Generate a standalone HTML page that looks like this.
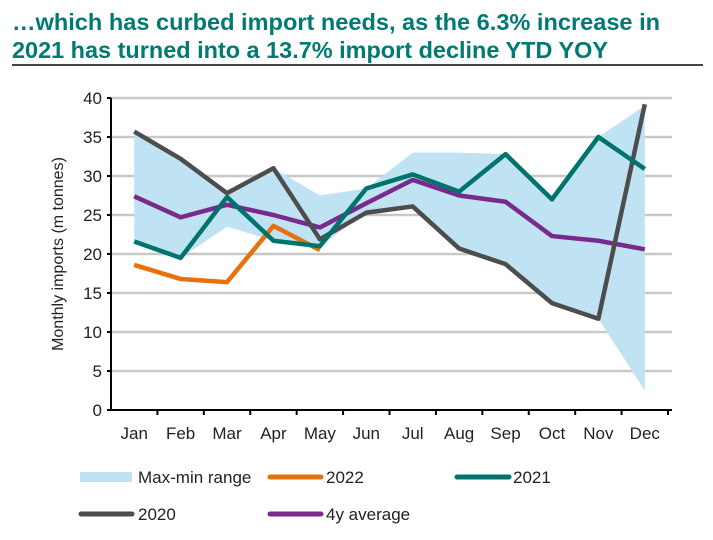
<!DOCTYPE html>
<html><head><meta charset="utf-8"><style>
body{margin:0;background:#fff;width:713px;height:535px;overflow:hidden;font-family:"Liberation Sans",sans-serif}
</style></head><body>
<svg id="chart" width="713" height="535" viewBox="0 0 713 535" xmlns="http://www.w3.org/2000/svg" font-family="Liberation Sans, sans-serif">
<text x="12" y="30" font-size="23" font-weight="bold" fill="#007a72" textLength="648" lengthAdjust="spacingAndGlyphs">…which has curbed import needs, as the 6.3% increase in</text>
<text x="12" y="58" font-size="23" font-weight="bold" fill="#007a72" textLength="596" lengthAdjust="spacingAndGlyphs">2021 has turned into a 13.7% import decline YTD YOY</text>
<line x1="12" y1="65" x2="703" y2="65" stroke="#444" stroke-width="2"/>
<g id="plot"></g>
<text transform="translate(63,254) rotate(-90)" text-anchor="middle" font-size="16" fill="#222">Monthly imports (m tonnes)</text>
<g font-size="17" fill="#222">
<rect x="80" y="472" width="52" height="10" fill="#bfe3f3"/>
<text x="138" y="483">Max-min range</text>
<line x1="270" y1="477" x2="321" y2="477" stroke="#e8700d" stroke-width="5" stroke-linecap="round"/>
<text x="326" y="483">2022</text>
<line x1="457" y1="477" x2="509" y2="477" stroke="#00736c" stroke-width="5" stroke-linecap="round"/>
<text x="513" y="483">2021</text>
<line x1="81" y1="514" x2="132" y2="514" stroke="#4d4d4d" stroke-width="5" stroke-linecap="round"/>
<text x="138" y="520">2020</text>
<line x1="270" y1="514" x2="321" y2="514" stroke="#7a2a8c" stroke-width="5" stroke-linecap="round"/>
<text x="326" y="520">4y average</text>
</g>
</svg>
<script>
const months=["Jan","Feb","Mar","Apr","May","Jun","Jul","Aug","Sep","Oct","Nov","Dec"];
const yTicks=[0,5,10,15,20,25,30,35,40];
const rangeMax=[35.7,32.2,27.8,31.0,27.5,28.4,33.0,33.0,32.8,27.0,35.0,39.0];
const rangeMin=[21.6,19.5,23.5,21.7,21.0,25.3,26.1,20.7,18.7,13.7,11.7,2.5];
const s2022=[18.6,16.8,16.4,23.6,20.5];
const s2021=[21.6,19.5,27.3,21.7,21.0,28.4,30.2,28.0,32.8,27.0,35.0,30.9];
const s2020=[35.7,32.2,27.8,31.0,21.9,25.3,26.1,20.7,18.7,13.7,11.7,39.2];
const sAvg=[27.4,24.7,26.3,25.0,23.4,26.5,29.5,27.5,26.7,22.3,21.7,20.6];

const NS="http://www.w3.org/2000/svg";
const g=document.getElementById('plot');
const L=111,R=668,T=98,B=410,yMax=40;
const bw=(R-L)/months.length;
const x=i=>L+bw*(i+0.5);
const y=v=>B-(v/yMax)*(B-T);
function mk(t,a){const e=document.createElementNS(NS,t);for(const k in a)e.setAttribute(k,a[k]);g.appendChild(e);return e;}
yTicks.forEach(v=>{
  if(v>0){const gl=mk('line',{x1:L,x2:R+4,y1:y(v),y2:y(v),stroke:'#c8c8c8','stroke-width':2.5});
  
  }
  const tk=mk('line',{x1:L-4,x2:L,y1:y(v),y2:y(v),stroke:'#000','stroke-width':2});
  
  
  const t=mk('text',{x:L-9,y:y(v)+6,'text-anchor':'end','font-size':17,fill:'#222'});t.textContent=v;
  
  
});
let pts=rangeMax.map((v,i)=>x(i)+','+y(v)).concat(rangeMin.map((v,i)=>x(i)+','+y(v)).reverse());
const area=mk('polygon',{points:pts.join(' '),fill:'#bfe3f3'});


function line(d,c,n){const p=mk('polyline',{points:d.map((v,i)=>x(i)+','+y(v)).join(' '),fill:'none',stroke:c,'stroke-width':4.5,'stroke-linejoin':'round'});
  
  }
line(s2022,'#e8700d','series-2022-line');
line(sAvg,'#7a2a8c','series-4y-average-line');
line(s2020,'#4d4d4d','series-2020-line');
line(s2021,'#00736c','series-2021-line');
const ax=mk('line',{x1:L,x2:L,y1:T,y2:B,stroke:'#000','stroke-width':2});


const xa=mk('line',{x1:L-4,x2:R+4,y1:B,y2:B,stroke:'#000','stroke-width':2});


months.forEach((m,i)=>{
  const tk=mk('line',{x1:L+bw*(i+1),x2:L+bw*(i+1),y1:B,y2:B+5,stroke:'#000','stroke-width':2});
  
  
  const t=mk('text',{x:x(i),y:B+29,'text-anchor':'middle','font-size':17,fill:'#222'});t.textContent=m;
  
  
});
</script>
</body></html>
